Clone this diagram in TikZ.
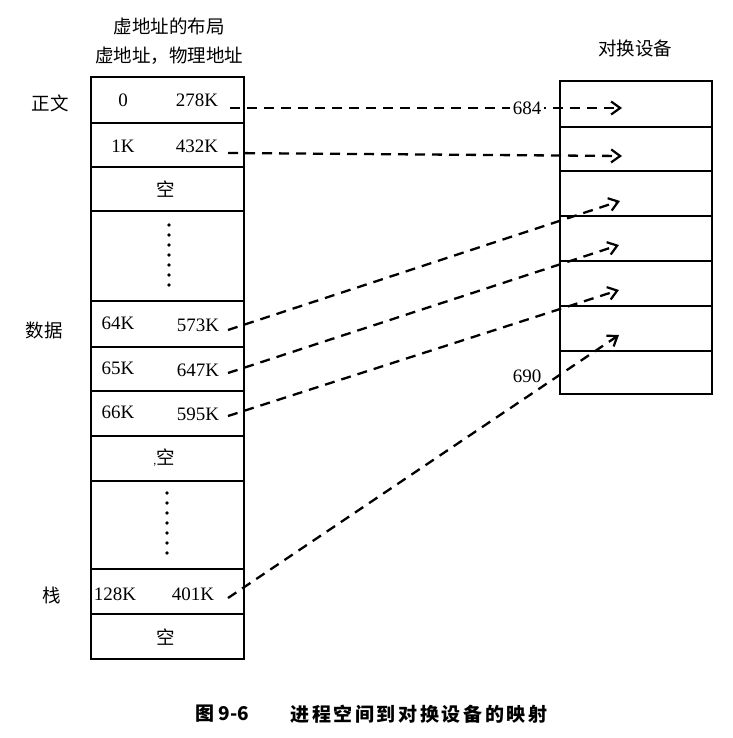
\documentclass[tikz,border=0pt]{standalone}
\usepackage{fontspec}
\setmainfont{Liberation Serif}
\newfontfamily\cjk{Noto Sans CJK SC}
\newfontfamily\cjkcap[LetterSpace=14]{Noto Sans CJK SC}
\usetikzlibrary{arrows.meta}
\begin{document}
\begin{tikzpicture}[x=1pt,y=-1pt,
  cell/.style={draw, line width=2.2pt, minimum width=153pt, inner sep=0pt, anchor=north west},
  rcell/.style={draw, line width=2.2pt, minimum width=152pt, inner sep=0pt, anchor=north west},
  num/.style={font=\fontsize{19}{20}\selectfont, inner sep=0pt},
  zh/.style={font=\cjk\fontsize{18.5}{20}\selectfont, inner sep=0pt},
  link/.style={line width=2.3pt, dash pattern=on 10pt off 7pt, -{Straight Barb[length=9pt,width=13pt,line width=2.2pt]}},
  dotmark/.style={fill=black, circle, inner sep=0pt, minimum size=3.6pt}]
\useasboundingbox (0,0) rectangle (732,738);
% headers
\node[zh] (h1) at (169,26) {虚地址的布局};
\node[zh] (h2) at (169,56) {虚地址，物理地址};
\node[zh] (h3) at (635,48) {对换设备};
% left column
\node[cell, minimum height=46pt] (r1) at (90,76) {};
\node[cell, minimum height=44pt] (r2) at (90,122) {};
\node[cell, minimum height=44pt] (r3) at (90,166) {};
\node[cell, minimum height=90pt] (r4) at (90,210) {};
\node[cell, minimum height=46pt] (r5) at (90,300) {};
\node[cell, minimum height=44pt] (r6) at (90,346) {};
\node[cell, minimum height=45pt] (r7) at (90,390) {};
\node[cell, minimum height=45pt] (r8) at (90,435) {};
\node[cell, minimum height=88pt] (r9) at (90,480) {};
\node[cell, minimum height=45pt] (r10) at (90,568) {};
\node[cell, minimum height=45pt] (r11) at (90,613) {};
% left labels
\node[zh] (l1) at (50,103) {正文};
\node[zh] (l2) at (44,330) {数据};
\node[zh] (l3) at (52,595) {栈};
% cell texts
\node[num] (a1) at (123,100) {0};
\node[num] (b1) at (197,100) {278K};
\node[num] (a2) at (123,146) {1K};
\node[num] (b2) at (197,146) {432K};
\node[zh] (e1) at (166,189) {空};
\node[num] (a5) at (118,323) {64K};
\node[num] (b5) at (198,325) {573K};
\node[num] (a6) at (118,368) {65K};
\node[num] (b6) at (198,370) {647K};
\node[num] (a7) at (118,412) {66K};
\node[num] (b7) at (198,414) {595K};
\node[zh] (e2) at (164,458) {{\fontsize{10}{10}\selectfont ,}空};
\node[num] (a10) at (115,594) {128K};
\node[num] (b10) at (193,594) {401K};
\node[zh] (e3) at (166,637) {空};
% dots
\foreach \k in {0,...,6} {
  \node[dotmark] (d\k) at (169,225+10*\k) {};
  \node[dotmark] (f\k) at (167,493+10*\k) {};
}
% right column
\node[rcell, minimum height=46pt] (s1) at (559,80) {};
\node[rcell, minimum height=44pt] (s2) at (559,126) {};
\node[rcell, minimum height=45pt] (s3) at (559,170) {};
\node[rcell, minimum height=45pt] (s4) at (559,215) {};
\node[rcell, minimum height=45pt] (s5) at (559,260) {};
\node[rcell, minimum height=45pt] (s6) at (559,305) {};
\node[rcell, minimum height=43pt] (s7) at (559,350) {};
% connectors
\coordinate (p1) at (230,108); \coordinate (q1) at (622,108);
\coordinate (p2) at (228,153); \coordinate (q2) at (622,156);
\coordinate (p5) at (228,330); \coordinate (q5) at (620,201);
\coordinate (p6) at (228,373); \coordinate (q6) at (619,245);
\coordinate (p7) at (228,416); \coordinate (q7) at (619,290);
\coordinate (p10) at (228,598); \coordinate (q10) at (619,335);
\draw[link] (p1) -- (q1);
\draw[link] (p2) -- (q2);
\draw[link] (p5) -- (q5);
\draw[link] (p6) -- (q6);
\draw[link] (p7) -- (q7);
\draw[link] (p10) -- (q10);
\node[num, fill=white, inner sep=3pt] (n684) at (527,108) {684};
\node[num] (n690) at (527,376) {690};
% caption
\node[font=\cjk\bfseries\fontsize{19}{20}\selectfont, inner sep=0pt] (c1) at (222,714) {图 9-6};
\node[font=\cjkcap\bfseries\fontsize{19}{20}\selectfont, inner sep=0pt] (c2) at (419,714) {进程空间到对换设备的映射};
\end{tikzpicture}
\end{document}
